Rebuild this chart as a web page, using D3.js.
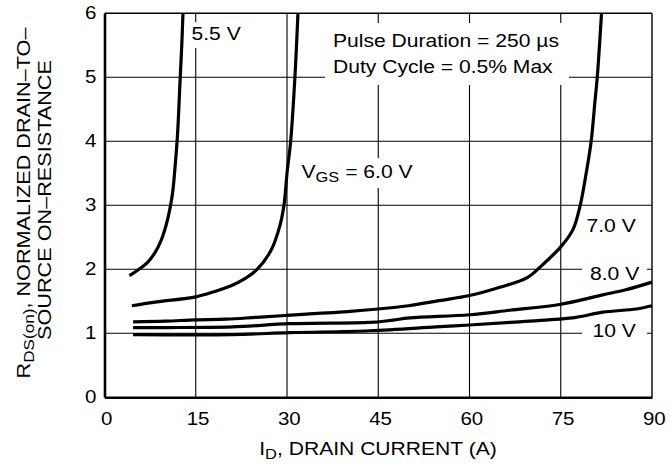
<!DOCTYPE html>
<html><head><meta charset="utf-8">
<script src="https://cdn.jsdelivr.net/npm/d3@7"></script>
<style>body{margin:0;background:#fff}svg{display:block}text{font-family:"Liberation Sans",Arial,Helvetica,sans-serif;fill:#000}</style>
</head><body><svg id="c" width="671" height="472"></svg>
<script>
const xTicks = [0, 15, 30, 45, 60, 75, 90];
const yTicks = [0, 1, 2, 3, 4, 5, 6];
const seriesNames = ["5.5 V", "6.0 V", "7.0 V", "8.0 V", "10 V"];
const vgs55 = [[4.1,1.9],[5.5,1.99],[7.0,2.1],[8.3,2.26],[9.3,2.45],[10.1,2.68],[10.7,2.92],[11.2,3.2],[11.6,3.6],[12.0,4.1],[12.4,4.9],[12.7,5.5],[12.9,6.0]];
const vgs60 = [[4.5,1.43],[8.6,1.49],[15,1.57],[18,1.65],[21,1.75],[23,1.85],[25,1.99],[27.4,2.3],[28.8,2.67],[29.5,3.0],[30.0,3.5],[30.6,4.0],[31.3,5.0],[31.8,6.0]];
const vgs70 = [[4.7,1.18],[10,1.19],[15,1.21],[20,1.22],[25,1.25],[30,1.28],[35,1.31],[40,1.34],[45,1.38],[50,1.43],[55,1.51],[60,1.59],[65,1.72],[69.5,1.87],[72,2.07],[75,2.35],[77,2.62],[78.2,3.0],[79,3.4],[80,4.0],[80.6,4.6],[81.0,5.0],[81.7,6.0]];
const vgs80 = [[4.7,1.09],[10,1.09],[21,1.1],[30.5,1.15],[43.6,1.17],[46.9,1.2],[50.2,1.24],[60,1.29],[66.6,1.36],[74.8,1.45],[81.9,1.6],[85.7,1.68],[90,1.8]];
const vgs10 = [[4.7,0.98],[21,0.98],[30.5,1.01],[43.6,1.04],[54.5,1.1],[60,1.13],[68.2,1.18],[77.5,1.25],[81.9,1.33],[87.4,1.38],[90,1.43]];

const svg = d3.select("#c");
const x = d3.scaleLinear().domain([0, 90]).range([104.5, 652]);
const y = d3.scaleLinear().domain([0, 6]).range([397.3, 13.3]);
const SX = 1.14;

// gridlines
const g = svg.append("g");
g.selectAll(".vg").data(xTicks.slice(1, -1)).join("line")
  .attr("x1", d => x(d)).attr("x2", d => x(d)).attr("y1", y(0)).attr("y2", y(6))
  .attr("stroke", "#000").attr("stroke-width", 1.1);
g.selectAll(".hg").data(yTicks.slice(1, -1)).join("line")
  .attr("x1", x(0)).attr("x2", x(90)).attr("y1", d => y(d)).attr("y2", d => y(d))
  .attr("stroke", "#000").attr("stroke-width", 1.1);

// white label backgrounds
const boxes = [[325, 23, 244, 62], [186, 22, 60, 26], [296, 158, 122, 30], [582, 214, 60, 24], [582, 260, 65, 25], [582, 318, 65, 24]];
svg.append("g").selectAll("rect").data(boxes).join("rect")
  .attr("x", d => d[0]).attr("y", d => d[1]).attr("width", d => d[2]).attr("height", d => d[3]).attr("fill", "#fff");

// frame
svg.append("line").attr("x1", x(0)).attr("x2", x(90)).attr("y1", y(6)).attr("y2", y(6)).attr("stroke", "#000").attr("stroke-width", 1.4);
svg.append("line").attr("x1", x(90)).attr("x2", x(90)).attr("y1", y(6)).attr("y2", y(0)).attr("stroke", "#000").attr("stroke-width", 1.4);

// axes
const ax = svg.append("g").attr("transform", `translate(0,${y(0)})`)
  .call(d3.axisBottom(x).tickValues(xTicks).tickFormat(d3.format("d")).tickSize(0).tickPadding(15));
ax.select(".domain").attr("stroke-width", 2.6);
ax.selectAll(".tick").each(function(d){ d3.select(this).attr("transform", `translate(${x(d)},0) scale(${SX},1)`); });
ax.selectAll("text").attr("font-size", 18).attr("dx", 2).style("font-family", '"Liberation Sans",Arial,sans-serif');

const ay = svg.append("g").attr("transform", `translate(${x(0)},0)`)
  .call(d3.axisLeft(y).tickValues(yTicks).tickFormat(d3.format("d")).tickSize(0).tickPadding(7));
ay.select(".domain").attr("stroke-width", 2.6);
ay.selectAll(".tick").each(function(d){ d3.select(this).attr("transform", `translate(0,${y(d)}) scale(${SX},1)`); });
ay.selectAll("text").attr("font-size", 18).attr("dy", "0.34em").style("font-family", '"Liberation Sans",Arial,sans-serif');

// curves
const line = d3.line().x(d => x(d[0])).y(d => y(d[1])).curve(d3.curveCatmullRom.alpha(0.5));
svg.append("g").selectAll("path").data([vgs55, vgs60, vgs70, vgs80, vgs10]).join("path")
  .attr("d", line).attr("fill", "none").attr("stroke", "#000").attr("stroke-width", 3.2)
  .attr("stroke-linejoin", "round");

function label(px, py, parts, size, anchor) {
  const t = svg.append("text").attr("transform", `translate(${px},${py}) scale(${SX},1)`)
    .attr("font-size", size).attr("text-anchor", anchor || "start");
  parts.forEach(p => {
    const s = t.append("tspan").text(p.t);
    if (p.sub) s.attr("font-size", size * 0.78).attr("dy", p.dy);
    else if (p.dy) s.attr("dy", p.dy);
  });
  return t;
}
label(191.5, 40, [{t: seriesNames[0]}], 18.5);
label(301.5, 178, [{t: "V"}, {t: "GS", sub: true, dy: 4}, {t: " = " + seriesNames[1], dy: -4}], 18.5);
label(586.5, 231.5, [{t: seriesNames[2]}], 18.5);
label(590, 280, [{t: seriesNames[3]}], 18.5);
label(592.5, 336.5, [{t: seriesNames[4]}], 18.5);
label(333, 46.5, [{t: "Pulse Duration = 250 \u00b5s"}], 18.5);
label(333, 72.5, [{t: "Duty Cycle = 0.5% Max"}], 18.5);

// axis titles
label(378, 455, [{t: "I"}, {t: "D", sub: true, dy: 4}, {t: ", DRAIN CURRENT (A)", dy: -4}], 18.5, "middle");
svg.append("text").attr("transform", `translate(30,203) rotate(-90) scale(${SX},1)`)
  .attr("font-size", 19).attr("text-anchor", "middle")
  .call(t => {
    t.append("tspan").text("R");
    t.append("tspan").text("DS(on)").attr("font-size", 15).attr("dy", 4);
    t.append("tspan").text(", NORMALIZED DRAIN\u2013TO\u2013").attr("dy", -4);
  });
svg.append("text").attr("transform", `translate(51,200) rotate(-90) scale(${SX},1)`)
  .attr("font-size", 19).attr("text-anchor", "middle").text("SOURCE ON\u2013RESISTANCE");
</script></body></html>
